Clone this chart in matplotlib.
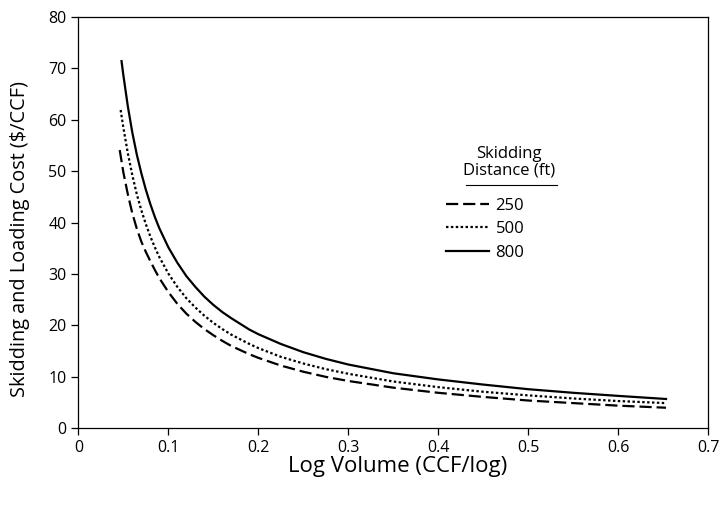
import matplotlib
matplotlib.use('Agg')
import matplotlib.pyplot as plt
from matplotlib.lines import Line2D

# === Data ===
vol_800 = [0.048, 0.05, 0.055, 0.06, 0.065, 0.07, 0.075, 0.08, 0.085, 0.09, 0.10,
           0.11, 0.12, 0.13, 0.14, 0.15, 0.16, 0.17, 0.18, 0.19, 0.20, 0.225,
           0.25, 0.275, 0.30, 0.35, 0.40, 0.45, 0.50, 0.55, 0.60, 0.653]
cost_800 = [71.4, 68.7, 62.6, 57.5, 53.2, 49.6, 46.4, 43.6, 41.1, 38.9, 35.2,
            32.2, 29.6, 27.5, 25.6, 24.0, 22.6, 21.4, 20.3, 19.2, 18.3, 16.4,
            14.8, 13.5, 12.4, 10.7, 9.5, 8.5, 7.6, 6.9, 6.3, 5.7]

vol_500 = [0.047, 0.05, 0.055, 0.06, 0.065, 0.07, 0.075, 0.08, 0.085, 0.09, 0.10,
           0.11, 0.12, 0.13, 0.14, 0.15, 0.16, 0.17, 0.18, 0.19, 0.20, 0.225,
           0.25, 0.275, 0.30, 0.35, 0.40, 0.45, 0.50, 0.55, 0.60, 0.653]
cost_500 = [61.9, 58.5, 53.5, 49.2, 45.5, 42.4, 39.7, 37.3, 35.2, 33.3, 30.1,
            27.5, 25.3, 23.5, 21.9, 20.5, 19.3, 18.2, 17.3, 16.4, 15.6, 13.9,
            12.6, 11.5, 10.6, 9.1, 8.0, 7.1, 6.4, 5.8, 5.3, 4.9]

vol_250 = [0.046, 0.05, 0.055, 0.06, 0.065, 0.07, 0.075, 0.08, 0.085, 0.09, 0.10,
           0.11, 0.12, 0.13, 0.14, 0.15, 0.16, 0.17, 0.18, 0.19, 0.20, 0.225,
           0.25, 0.275, 0.30, 0.35, 0.40, 0.45, 0.50, 0.55, 0.60, 0.653]
cost_250 = [54.1, 49.8, 45.5, 41.8, 38.8, 36.3, 34.3, 32.5, 30.8, 29.2, 26.5,
            24.2, 22.3, 20.7, 19.3, 18.1, 17.0, 16.0, 15.2, 14.4, 13.7, 12.2,
            11.0, 10.0, 9.2, 7.9, 6.9, 6.1, 5.4, 4.9, 4.4, 4.0]

series_labels = ['250', '500', '800']
x_ticks = [0, 0.1, 0.2, 0.3, 0.4, 0.5, 0.6, 0.7]
y_ticks = [0, 10, 20, 30, 40, 50, 60, 70, 80]

plt.rcParams.update({
    'font.family': ['Open Sans', 'DejaVu Sans'],
    'font.size': 11.5,
    'axes.linewidth': 0.9,
    'xtick.major.width': 0.9,
    'ytick.major.width': 0.9,
})

fig = plt.figure(figsize=(7.2, 5.08), dpi=100, facecolor='white')
ax = fig.add_axes([0.1088, 0.1569, 0.875, 0.8098])

LW = 1.6
l250, = ax.plot(vol_250, cost_250, color='black', lw=LW, linestyle=(0, (5.5, 2.2)),
                label=series_labels[0])
l500, = ax.plot(vol_500, cost_500, color='black', lw=LW, linestyle=(0, (1.1, 1.1)),
                label=series_labels[1])
l800, = ax.plot(vol_800, cost_800, color='black', lw=LW, linestyle='-',
                label=series_labels[2])

ax.set_xlim(0, 0.7)
ax.set_ylim(0, 80)
ax.set_xticks(x_ticks)
ax.set_xticklabels(['0' if t == 0 else f'{t:g}' for t in x_ticks])
ax.set_yticks(y_ticks)
ax.tick_params(direction='out', length=5, top=False, right=False,
               labelsize=11.5, colors='black')

ax.set_xlabel('Log Volume (CCF/log)', fontsize=16)
ax.xaxis.set_label_coords(0.507, -0.068)
ax.set_ylabel('Skidding and Loading Cost ($/CCF)', fontsize=14.3)
ax.yaxis.set_label_coords(-0.076, 0.46)

# Legend (title drawn separately so it can sit right of centre, as in the original)
ax.legend(handles=[l250, l500, l800], loc='upper left',
          bbox_to_anchor=(0.575, 0.573), frameon=False, fontsize=12,
          handlelength=2.6, handletextpad=0.4, labelspacing=0.45,
          borderpad=0.3, borderaxespad=0)
ax.text(0.684, 0.647, 'Skidding\nDistance (ft)', transform=ax.transAxes,
        ha='center', va='center', fontsize=12, linespacing=1.05)
ax.add_line(Line2D([0.615, 0.760], [0.591, 0.591], transform=ax.transAxes,
                   color='black', lw=0.8))

fig.savefig('out.png', dpi=100, facecolor='white')
